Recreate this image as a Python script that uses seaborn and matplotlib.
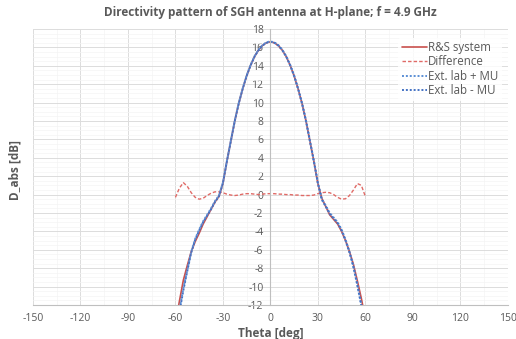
import numpy as np
import pandas as pd
import matplotlib
matplotlib.use('Agg')
import matplotlib.pyplot as plt
import seaborn as sns
from matplotlib.ticker import MultipleLocator

# angles [deg]
theta = [-60, -57.5, -55, -52.5, -50, -47.5, -45, -42.5, -40, -37.5, -35, -32.5,
         -30, -27.5, -25, -22.5, -20, -17.5, -15, -12.5, -10, -7.5, -5, -2.5,
         0, 2.5, 5, 7.5, 10, 12.5, 15, 17.5, 20, 22.5, 25, 27.5,
         30, 32.5, 35, 37.5, 40, 42.5, 45, 47.5, 50, 52.5, 55, 57.5, 60]

rs_system = [-14.0, -11.6, -9.3, -7.7, -6.2, -5.1, -4.2, -3.2, -2.4, -1.6, -0.8, -0.2,
             1.2, 3.6, 5.8, 8.0, 9.9, 11.5, 12.9, 14.05, 15.0, 15.7, 16.2, 16.5,
             16.6, 16.5, 16.2, 15.7, 15.0, 14.05, 12.9, 11.5, 9.9, 8.0, 5.8, 3.6,
             1.2, -0.4, -1.3, -2.2, -2.7, -3.2, -4.0, -5.0, -6.2, -7.6, -9.4, -11.3, -13.5]

difference = [-0.3, 0.7, 1.3, 0.9, 0.2, -0.3, -0.5, -0.4, -0.1, 0.15, 0.3, 0.3,
              0.2, 0.05, -0.05, -0.1, -0.05, 0.05, 0.1, 0.1, 0.05, 0.0, 0.05, 0.1,
              0.1, 0.1, 0.05, 0.05, 0.0, 0.0, -0.05, -0.05, -0.1, -0.1, -0.1, -0.05,
              0.1, 0.2, 0.25, 0.2, 0.0, -0.3, -0.5, -0.45, -0.1, 0.5, 1.2, 1.0, -0.2]

ext_plus = [-14.8, -12.6, -10.2, -8.2, -6.2, -4.8, -3.8, -2.9, -2.2, -1.5, -0.7, -0.1,
            1.3, 3.65, 5.85, 8.05, 9.95, 11.55, 12.95, 14.1, 15.05, 15.75, 16.25, 16.55,
            16.65, 16.55, 16.25, 15.75, 15.05, 14.1, 12.95, 11.55, 9.95, 8.05, 5.85, 3.65,
            1.3, -0.5, -1.2, -2.0, -2.5, -3.0, -3.8, -4.9, -6.2, -7.8, -9.8, -12.0, -14.3]

ext_minus = [-15.0, -12.8, -10.4, -8.3, -6.3, -4.9, -3.9, -3.0, -2.3, -1.6, -0.8, -0.2,
             1.25, 3.6, 5.8, 8.0, 9.9, 11.5, 12.9, 14.05, 15.0, 15.7, 16.2, 16.5,
             16.6, 16.5, 16.2, 15.7, 15.0, 14.05, 12.9, 11.5, 9.9, 8.0, 5.8, 3.6,
             1.25, -0.55, -1.3, -2.1, -2.6, -3.1, -3.9, -5.0, -6.3, -7.9, -9.9, -12.1, -14.5]

sns.set_style('white')
plt.rcParams['font.family'] = ['Open Sans', 'DejaVu Sans']
plt.rcParams['axes.unicode_minus'] = False

fig = plt.figure(figsize=(5.16, 3.39), dpi=100)
ax = fig.add_axes([0.064, 0.1003, 0.92, 0.8142])

sns.lineplot(x=theta, y=rs_system, ax=ax, color='#C9504D', lw=1.2, label='R&S system')
sns.lineplot(x=theta, y=difference, ax=ax, color='#E06A66', lw=1.0, ls=(0, (2.5, 1.5)), label='Difference')
sns.lineplot(x=theta, y=ext_plus, ax=ax, color='#5B8FD5', lw=1.4, ls=(0, (1, 1)), label='Ext. lab + MU')
sns.lineplot(x=theta, y=ext_minus, ax=ax, color='#4472C4', lw=1.4, ls=(0, (1, 1)), label='Ext. lab - MU')

ax.set_xlim(-150, 150)
ax.set_ylim(-12, 18)
ax.xaxis.set_major_locator(MultipleLocator(30))
ax.xaxis.set_minor_locator(MultipleLocator(15))
ax.yaxis.set_major_locator(MultipleLocator(2))
ax.yaxis.set_minor_locator(MultipleLocator(0.5))
ax.grid(which='major', color='#DCDCDC', lw=0.7)
ax.grid(which='minor', color='#F4F4F4', lw=0.5)
ax.set_axisbelow(True)

for s in ['top', 'right']:
    ax.spines[s].set_visible(False)
ax.spines['left'].set_position(('data', 0))
ax.spines['left'].set_color('#BFBFBF')
ax.spines['bottom'].set_color('#BFBFBF')
ax.tick_params(axis='both', which='major', labelsize=7.5, labelcolor='#595959',
               color='#BFBFBF', length=3, pad=2)
ax.tick_params(axis='both', which='minor', length=0)
ax.tick_params(axis='x', length=0, pad=6)

ax.set_title('Directivity pattern of SGH antenna at H-plane; f = 4.9 GHz',
             fontsize=8.5, fontweight='bold', color='#595959', pad=9)
ax.set_xlabel('Theta [deg]', fontsize=8.5, fontweight='bold', color='#595959', labelpad=2)
fig.text(0.03, 0.5, 'D_abs [dB]', rotation=90, fontsize=8.5, fontweight='bold',
         color='#595959', ha='center', va='center')

leg = ax.legend(loc='upper right', bbox_to_anchor=(1.0, 0.99), fontsize=8.3, frameon=True,
                handlelength=2.2, handletextpad=0.1, labelspacing=0.12, borderpad=0.3)
leg.get_frame().set_edgecolor('none')
leg.get_frame().set_facecolor('white')
for t in leg.get_texts():
    t.set_color('#595959')

fig.savefig('out.png', dpi=100)
